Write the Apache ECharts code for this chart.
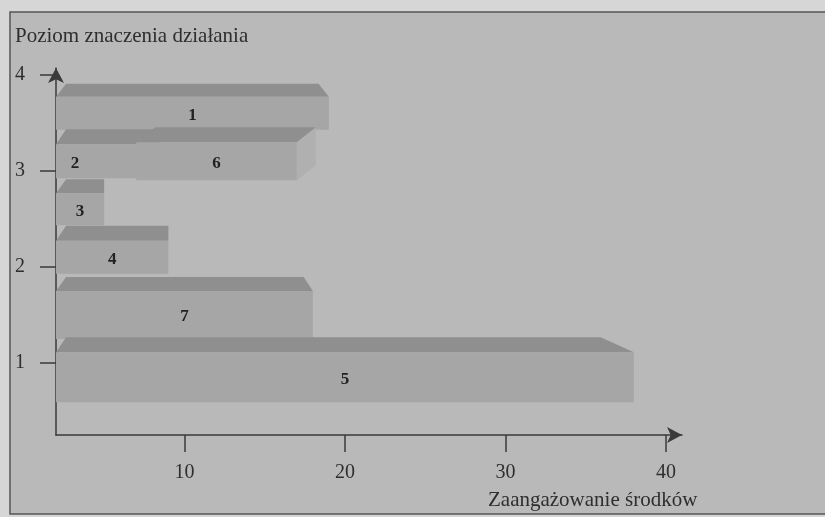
<!DOCTYPE html>
<html>
<head>
<meta charset="utf-8">
<script src="https://cdn.jsdelivr.net/npm/echarts@6/dist/echarts.min.js"></script>
<style>
  html, body { margin: 0; padding: 0; }
  #chart { width: 825px; height: 517px; }
</style>
</head>
<body>
<div id="chart"></div>
<script>
// dane
const barNames = ['1', '2', '3', '4', '5', '6', '7']
const barStart = [0, 0, 0, 0, 0, 7, 0]
const barEnd = [19, 8.5, 5, 9, 38, 17, 18]
const barLevel = [3.6, 3.1, 2.6, 2.1, 0.85, 3.1, 1.5]
const xTicks = [10, 20, 30, 40]
const yTicks = [1, 2, 3, 4]

// wygląd słupków (piksele)
const frontHeight = { 1: 33, 2: 34, 3: 32, 4: 33, 5: 50, 6: 38, 7: 48 }
const topHeight = { 1: 13, 2: 15, 3: 14, 4: 15, 5: 15, 6: 15, 7: 14 }
const obliqueShift = { 6: 19 }

const xMin = 2
const serif = '"Liberation Serif", "DejaVu Serif", serif'
const ink = '#2e2e2e'

// kolejność rysowania: od góry do dołu
const order = barNames.map((n, i) => i).sort((a, b) => barLevel[b] - barLevel[a])
const seriesData = order.map(i => ({ name: barNames[i], value: [barStart[i], barEnd[i], barLevel[i]] }))

const renderBar = (params, api) => {
  const i = order[params.dataIndex]
  const name = barNames[i]
  const s = Math.max(api.value(0), xMin)
  const p0 = api.coord([s, api.value(2)])
  const p1 = api.coord([api.value(1), api.value(2)])
  const x0 = p0[0], x1 = p1[0], cy = p0[1]
  const h = frontHeight[name], d = topHeight[name]
  const yT = cy - h / 2, yB = cy + h / 2
  const children = []
  let topPts
  if (obliqueShift[name]) {
    const dx = obliqueShift[name]
    topPts = [[x0, yT], [x1, yT], [x1 + dx, yT - d], [x0 + dx, yT - d]]
    children.push({
      type: 'polygon',
      shape: { points: [[x1, yT], [x1 + dx, yT - d], [x1 + dx, yB - d], [x1, yB]] },
      style: { fill: '#b0b0b0' }
    })
  } else {
    const vx = api.coord([10.4, 0])[0]
    const k = 0.075
    const tl = x0 + (vx - x0) * k
    const tr = Math.min(x1, x1 + (vx - x1) * k)
    topPts = [[x0, yT], [x1, yT], [tr, yT - d], [tl, yT - d]]
  }
  children.push({ type: 'polygon', shape: { points: topPts }, style: { fill: '#8f8f8f' } })
  children.push({ type: 'rect', shape: { x: x0, y: yT, width: x1 - x0, height: h }, style: { fill: '#a6a6a6' } })

  // czy słupek jest częściowo zasłonięty przez późniejszy na tym samym poziomie
  const hidden = order.slice(params.dataIndex + 1).some(j =>
    barLevel[j] === barLevel[i] && barStart[j] > barStart[i] && barStart[j] < barEnd[i])
  children.push({
    type: 'text',
    style: {
      text: name,
      x: hidden ? x0 + 19 : (x0 + x1) / 2,
      y: cy + 2,
      align: 'center',
      verticalAlign: 'middle',
      font: 'bold 17px ' + serif,
      fill: '#222'
    }
  })
  return { type: 'group', children }
}

const chart = echarts.init(document.getElementById('chart'))
const option = {
  backgroundColor: '#d6d6d6',
  animation: false,
  graphic: [
    {
      type: 'rect',
      z: -10,
      shape: { x: 10, y: 12, width: 840, height: 502 },
      style: { fill: '#b9b9b9', stroke: '#555', lineWidth: 1.5 }
    },
    {
      type: 'text',
      z: 10,
      style: { text: 'Poziom znaczenia działania', x: 15, y: 36, font: '21px ' + serif, fill: ink, verticalAlign: 'middle' }
    },
    {
      type: 'text',
      z: 10,
      style: { text: 'Zaangażowanie środków', x: 488, y: 500, font: '21px ' + serif, fill: ink, verticalAlign: 'middle' }
    }
  ],
  grid: { left: 56, right: 143, top: 68, bottom: 82 },
  xAxis: {
    type: 'value',
    min: xMin,
    max: 41,
    axisLine: { symbol: ['none', 'arrow'], symbolSize: [12, 15], lineStyle: { color: '#3a3a3a', width: 1.5 } },
    axisTick: { customValues: xTicks, length: 17, lineStyle: { color: '#3a3a3a', width: 1.5 } },
    axisLabel: { customValues: xTicks, margin: 28, fontSize: 20, fontFamily: serif, color: ink },
    splitLine: { show: false }
  },
  yAxis: {
    type: 'value',
    min: 0.25,
    max: 4.07,
    axisLine: { show: true, symbol: ['none', 'arrow'], symbolSize: [12, 15], lineStyle: { color: '#3a3a3a', width: 1.5 } },
    axisTick: { show: true, customValues: yTicks, length: 16, lineStyle: { color: '#3a3a3a', width: 1.5 } },
    axisLabel: { customValues: yTicks, margin: 31, fontSize: 20, fontFamily: serif, color: ink },
    splitLine: { show: false }
  },
  series: [
    {
      type: 'custom',
      renderItem: renderBar,
      encode: { x: [0, 1], y: 2 },
      data: seriesData,
      z: 3
    }
  ]
}
chart.setOption(option)
</script>
</body>
</html>
